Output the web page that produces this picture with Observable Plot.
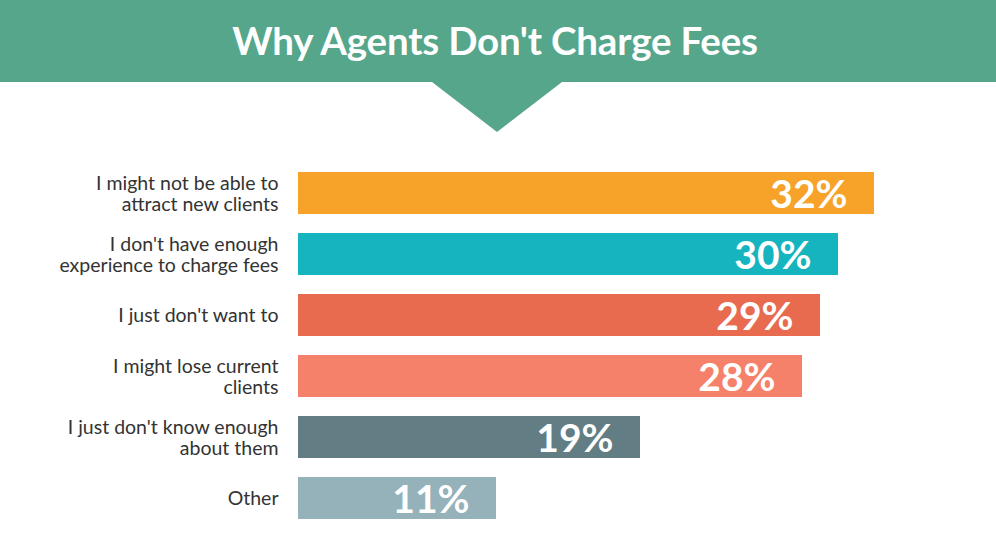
<!DOCTYPE html>
<html>
<head>
<meta charset="utf-8">
<script src="https://cdn.jsdelivr.net/npm/d3@7"></script>
<script src="https://cdn.jsdelivr.net/npm/@observablehq/plot@0.6"></script>
<style>
  html, body { margin: 0; padding: 0; background: #fff; }
  body { width: 996px; height: 558px; overflow: hidden; position: relative; font-family: Lato, "Open Sans", sans-serif; }
  #banner { height: 82px; background: #55a68a; color: #fff; text-align: center; font-family: Lato, sans-serif; font-weight: bold; font-size: 38.5px; line-height: 82px; letter-spacing: -0.2px; position: relative; }
  #banner span { position: relative; top: -1px; left: -3px; }
  #arrow { position: absolute; left: 432px; top: 82px; width: 0; height: 0; border-left: 65px solid transparent; border-right: 65px solid transparent; border-top: 50px solid #55a68a; }
  #chart { position: absolute; left: 0; top: 82px; }
</style>
</head>
<body>
<div id="banner"><span>Why Agents Don't Charge Fees</span></div>
<div id="arrow"></div>
<div id="chart"></div>
<script>
const reasons = [
  "I might not be able to\nattract new clients",
  "I don't have enough\nexperience to charge fees",
  "I just don't want to",
  "I might lose current\nclients",
  "I just don't know enough\nabout them",
  "Other"
];
const values = [32, 30, 29, 28, 19, 11];
const colors = ["#f7a229", "#15b4be", "#e86a4f", "#f6816a", "#627d83", "#95b2ba"];

const data = reasons.map((r, i) => ({reason: r, value: values[i], color: colors[i]}));

const chart = Plot.plot({
  width: 996,
  height: 476,
  marginLeft: 298,
  marginRight: 14,
  marginTop: 71,
  marginBottom: 20,
  style: {fontFamily: "Lato, sans-serif", background: "transparent"},
  x: {domain: [0, 38], axis: null},
  y: {domain: reasons, padding: 0.31, axis: null},
  marks: [
    Plot.barX(data, {x: "value", y: "reason", fill: d => d.color}),
    Plot.text(data, {x: 0, y: "reason", text: "reason", textAnchor: "end", dx: -20, fontSize: 19.5, lineHeight: 1.08, fill: "#333"}),
    Plot.text(data, {x: "value", y: "reason", text: d => d.value + "%", textAnchor: "end", dx: -27, dy: 2, fill: "#fff", fontSize: 39, fontWeight: "bold"})
  ]
});
document.getElementById("chart").appendChild(chart);
</script>
</body>
</html>
